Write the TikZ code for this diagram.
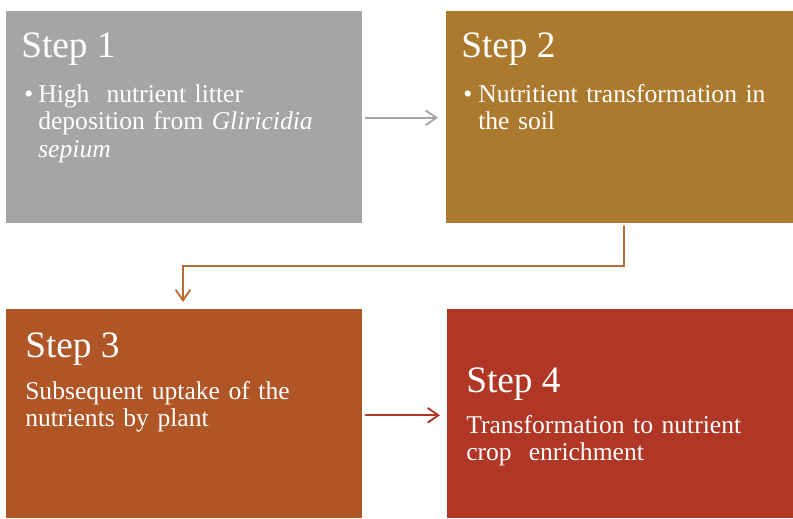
\documentclass[tikz,border=0pt]{standalone}
\usepackage{fontspec}
\setmainfont{Liberation Serif}
\usetikzlibrary{arrows.meta,calc}
\definecolor{cgray}{HTML}{A5A5A5}
\definecolor{cgold}{HTML}{AB7A2E}
\definecolor{crust}{HTML}{AF5526}
\definecolor{cred}{HTML}{B03726}
\definecolor{carrowtwo}{HTML}{B86B35}
\begin{document}
\begin{tikzpicture}[x=0.75pt,y=-0.75pt,
  box/.style={fill=#1, draw=none, inner sep=0pt, anchor=north west},
  head/.style={anchor=base west, inner sep=0pt, text=white, font=\fontsize{28}{34}\selectfont},
  body/.style={anchor=base west, inner sep=0pt, text=white, text width=320pt, align=left, font=\fontsize{19.2}{20.8}\selectfont},
  bul/.style={anchor=base west, inner sep=0pt, text=white, font=\fontsize{19.2}{20.8}\selectfont},
  conn/.style={line width=1.4pt, line cap=round, draw=#1, -{Straight Barb[length=8pt,width=11pt,line width=1.4pt]}}]
\useasboundingbox (0,0) rectangle (793,518);
\fill[white] (0,0) rectangle (793,518);
% boxes
\node[box=cgray, minimum width=267pt, minimum height=159pt] (b1) at (6,11) {};
\node[box=cgold, minimum width=260.25pt, minimum height=159pt] (b2) at (446,11) {};
\node[box=crust, minimum width=267pt, minimum height=156.75pt] (b3) at (6,309) {};
\node[box=cred, minimum width=259.5pt, minimum height=156.75pt] (b4) at (447,309) {};
% texts
\node[head] (h1) at (21,57) {Step 1};
\node[bul] (u1) at (24,102) {\textbullet};
\node[body] (t1) at (38,102) {High\ \ nutrient litter\\deposition from \textit{Gliricidia}\\\textit{sepium}};
\node[head] (h2) at (461,57) {Step 2};
\node[bul] (u2) at (463,102) {\textbullet};
\node[body] (t2) at (478,102) {Nutritient transformation in\\the soil};
\node[head] (h3) at (25,357) {Step 3};
\node[body] (t3) at (25,399) {Subsequent uptake of the\\nutrients by plant};
\node[head] (h4) at (466,392) {Step 4};
\node[body] (t4) at (466,433) {Transformation to nutrient\\crop\ \ enrichment};
% connectors
\coordinate (a2s) at (624,226);
\coordinate (a2e) at (183,302);
\draw[conn=cgray] ($(b1.east)+(3,0.5)$) -- ($(b2.west)+(-8,0.5)$);
\draw[conn=carrowtwo, line width=1.1pt] (a2s) -- (624,266) -- (183,266) -- (a2e);
\draw[conn=cred] ($(b3.east)+(3,1.5)$) -- ($(b4.west)+(-7,1.5)$);
\end{tikzpicture}
\end{document}
